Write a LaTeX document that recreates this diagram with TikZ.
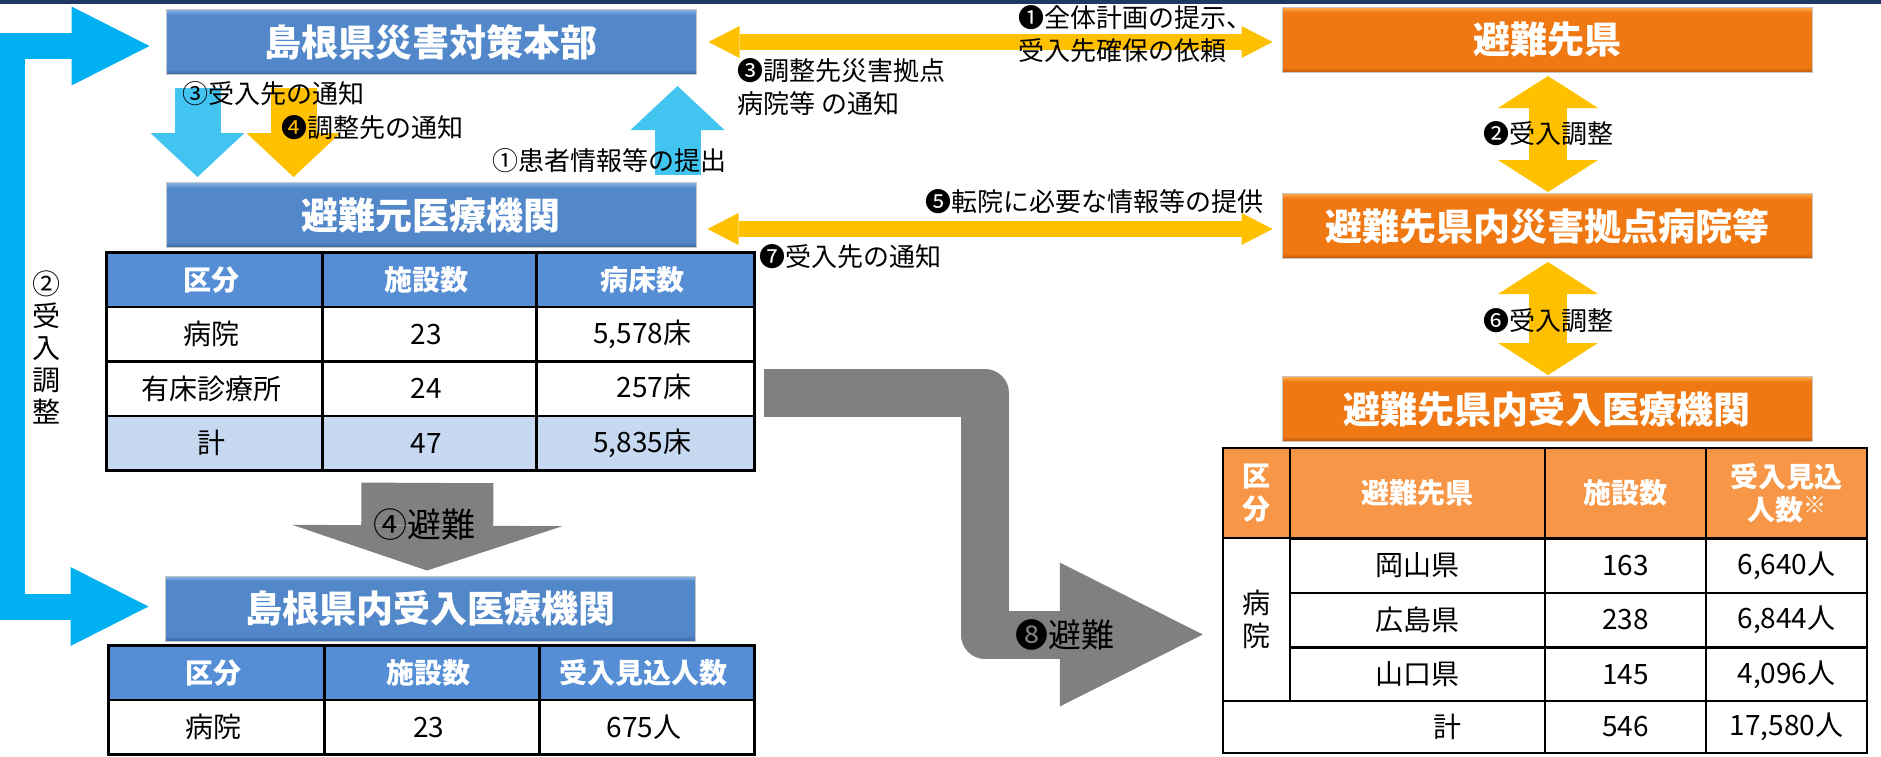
\documentclass[tikz,border=0pt]{standalone}
\usepackage{fontspec}
\setmainfont{Noto Sans CJK JP}
\definecolor{topnavy}{RGB}{32,56,100}
\definecolor{hqblue}{RGB}{82,136,202}
\definecolor{hqblueL}{RGB}{140,182,232}
\definecolor{hqblueD}{RGB}{58,98,156}
\definecolor{prefor}{RGB}{240,120,18}
\definecolor{preforL}{RGB}{255,172,72}
\definecolor{preforD}{RGB}{186,88,12}
\definecolor{headblue}{RGB}{85,142,213}
\definecolor{paleblue}{RGB}{198,217,241}
\definecolor{headorange}{RGB}{247,150,70}
\definecolor{arrowyellow}{RGB}{255,192,0}
\definecolor{railcyan}{RGB}{0,176,240}
\definecolor{skycyan}{RGB}{66,196,240}
\definecolor{evacgray}{RGB}{128,128,128}
\usetikzlibrary{arrows.meta,positioning,calc,matrix}
\pgfdeclareverticalshading{bluebevel}{100bp}{color(0bp)=(hqblueD); color(25bp)=(hqblueD);
  color(29bp)=(hqblue); color(71bp)=(hqblue); color(75bp)=(hqblueL); color(100bp)=(hqblueL)}
\pgfdeclareverticalshading{orangebevel}{100bp}{color(0bp)=(preforD); color(25bp)=(preforD);
  color(29bp)=(prefor); color(71bp)=(prefor); color(75bp)=(preforL); color(100bp)=(preforL)}
\tikzset{
  titlebox/.style={rectangle,shade,shading=bluebevel,draw=gray!45,line width=1pt,
                   minimum width=530pt,minimum height=65pt,inner sep=0pt,
                   text=white,font=\fontsize{37}{40}\selectfont\bfseries},
  prefbox/.style={titlebox,shading=orangebevel},
  note/.style={inner sep=0pt,anchor=west,align=left,font=\fontsize{26}{33}\selectfont},
  tabcell/.style={rectangle,draw=black,line width=2.5pt,fill=white,inner sep=0pt,
                  minimum height=54.5pt,align=center,font=\fontsize{28}{33}\selectfont},
  tabhead/.style={fill=headblue,text=white,font=\fontsize{28}{33}\selectfont\bfseries},
  orhead/.style={fill=headorange,text=white,font=\fontsize{28}{33}\selectfont\bfseries},
  tabgrid/.style={matrix of nodes,inner sep=0pt,column sep=-2.5pt,row sep=-2.5pt,
                  nodes={tabcell,anchor=center}},
  twinflat/.style={arrowyellow,line width=16pt,
     {Triangle[width=32pt,length=31pt,line width=0pt]}-{Triangle[width=32pt,length=31pt,line width=0pt]}},
  twintall/.style={arrowyellow,line width=38pt,
     {Triangle[width=100pt,length=32pt,line width=0pt]}-{Triangle[width=100pt,length=32pt,line width=0pt]}},
  skyarrow/.style={skycyan,line width=46pt,-{Triangle[width=94pt,length=44pt,line width=0pt]}},
  notearrow/.style={skyarrow,arrowyellow},
  railarrow/.style={railcyan,line width=26pt,
     {Triangle[width=79pt,length=78pt,line width=0pt]}-{Triangle[width=79pt,length=78pt,line width=0pt]}},
  evacarrow/.style={evacgray,line width=132pt,-{Triangle[width=270pt,length=45pt,line width=0pt]}},
  evacbend/.style={evacgray,line width=48pt,line join=round,
     -{Triangle[width=144pt,length=143pt,line width=0pt]}},
}

\begin{document}
\begin{tikzpicture}[x=1pt,y=-1pt]
  \useasboundingbox (0,0) rectangle (1881,756);
  \fill[topnavy] (0,0) rectangle (1881,3.5);

  % Shimane side
  \node[titlebox] (hq) at (431,42) {島根県災害対策本部};
  \node[titlebox] (src) at (431,215) {避難元医療機関};
  \node[titlebox] (inbox) at (430,608.5) {島根県内受入医療機関};

  % destination prefecture side
  \node[prefbox] (pref) at (1547,40) {避難先県};
  \node[prefbox] (hub) at (1547,226) {避難先県内災害拠点病院等};
  \node[prefbox] (dest) at (1547,409) {避難先県内受入医療機関};

  % tables
  \matrix (srcTab) [tabgrid,anchor=north west,
      column 1/.style={nodes={minimum width=216pt}},
      column 2/.style={nodes={minimum width=214pt}},
      column 3/.style={nodes={minimum width=218pt}},
      row 1/.style={nodes={tabhead}},row 4/.style={nodes={fill=paleblue}}] at (105,251) {
    区分 & 施設数 & 病床数 \\
    病院 & 23 & 5,578床 \\
    有床診療所 & 24 & \phantom{5,}257床 \\
    計 & 47 & 5,835床 \\
  };
  \matrix (inTab) [tabgrid,anchor=north west,
      column 1/.style={nodes={minimum width=216pt}},
      column 2/.style={nodes={minimum width=215pt}},
      column 3/.style={nodes={minimum width=215pt}},
      row 1/.style={nodes={tabhead}}] at (107,644) {
    区分 & 施設数 & 受入見込人数 \\
    病院 & 23 & 675人 \\
  };

  \node[tabcell,orhead,minimum width=67pt,minimum height=90pt] (dstKubun) at (1256.5,493) {区\\分};
  \node[tabcell,orhead,minimum width=255pt,minimum height=90pt] (dstPref) at (1417.5,493) {避難先県};
  \node[tabcell,orhead,minimum width=161pt,minimum height=90pt] (dstNum) at (1625.5,493) {施設数};
  \node[tabcell,orhead,minimum width=161pt,minimum height=90pt] (dstPeople) at (1786.5,493)
      {受入見込\\人数{\fontsize{23}{23}\selectfont\raisebox{7pt}{※}}};
  \node[tabcell,minimum width=67pt,minimum height=163pt] (dstHosp) at (1256.5,619.5) {病\\院};
  \foreach \r/\yc/\pf/\nf/\np in {1/565.5/岡山県/163/{6,640人},2/620/広島県/238/{6,844人},3/674.5/山口県/145/{4,096人}} {
    \node[tabcell,minimum width=255pt] (dst-\r-2) at (1417.5,\yc) {\pf};
    \node[tabcell,minimum width=161pt] (dst-\r-3) at (1625.5,\yc) {\nf};
    \node[tabcell,minimum width=161pt] (dst-\r-4) at (1786.5,\yc) {\np};
  }
  \node[tabcell,minimum width=322pt,minimum height=52pt] (dstSum) at (1384,727) {\hspace*{126pt}計};
  \node[tabcell,minimum width=161pt,minimum height=52pt] (dstSumNum) at (1625.5,727) {546};
  \node[tabcell,minimum width=161pt,minimum height=52pt] (dstSumPeople) at (1786.5,727) {17,580人};

  % connectors
  \draw[railarrow] ($(hq.west)+(-16,4)$) -- ++(-138,0) |- ($(inbox.west)+(-16,-2)$);
  \draw[skyarrow] ($(hq.south west)+(32,13)$) -- ($(src.north west)+(32,-5)$);
  \draw[notearrow] ($(hq.south west)+(128,13)$) -- ($(src.north west)+(128,-5)$);
  \draw[skyarrow] ($(src.north east)+(-19,-7)$) -- ($(hq.south east)+(-19,11)$);
  \draw[twinflat] ($(hq.east)+(12,0)$) -- ($(hq.east -| pref.west)+(-9,0)$);
  \draw[twinflat] ($(src.east |- hub.west)+(11,3)$) -- ($(hub.west)+(-9,3)$);
  \draw[twintall] ($(pref.south)+(1,3)$) -- ($(hub.north)+(1,-1)$);
  \draw[twintall] ($(hub.south)+(1,3)$) -- ($(dest.north)+(1,-1)$);
  \draw[evacarrow] ($(srcTab.south)+(-3,11)$) -- ($(inbox.north)+(-3,-5)$);
  \coordinate (evacStart) at ($(srcTab-3-3.east)+(8,4)$);
  \coordinate (evacEnd) at ($(dstHosp.west)+(-19,15)$);
  \draw[evacbend] (evacStart) -- ++(221,0) |- (evacEnd);

  % labels
  \node[note] (lblRecv) at (182,94) {③受入先の通知};
  \node[note] (lblAdj) at (281,128) {❹調整先の通知};
  \node[note] (lblInfo) at (492,161) {①患者情報等の提出};
  \node[note] (lblHub) at (737,87.5) {❸調整先災害拠点\\病院等 の通知};
  \node[note] (lblPlan) at (1018,34) {❶全体計画の提示、\\受入先確保の依頼};
  \node[note] (lblTrans) at (925,202) {❺転院に必要な情報等の提供};
  \node[note] (lblDest) at (759,257) {❼受入先の通知};
  \node[note] (lblCoordA) at (1483,134) {❷受入調整};
  \node[note] (lblCoordB) at (1483,321) {❻受入調整};
  \node[inner sep=0pt,align=center,font=\fontsize{28}{32}\selectfont] (railLbl) at (46,347) {②\\受\\入\\調\\整};
  \node[inner sep=0pt,font=\fontsize{34}{34}\selectfont] (evacLblA) at (424,525) {④避難};
  \node[inner sep=0pt,font=\fontsize{33}{33}\selectfont] (evacLblB) at (1065,635) {❽避難};
\end{tikzpicture}
\end{document}
